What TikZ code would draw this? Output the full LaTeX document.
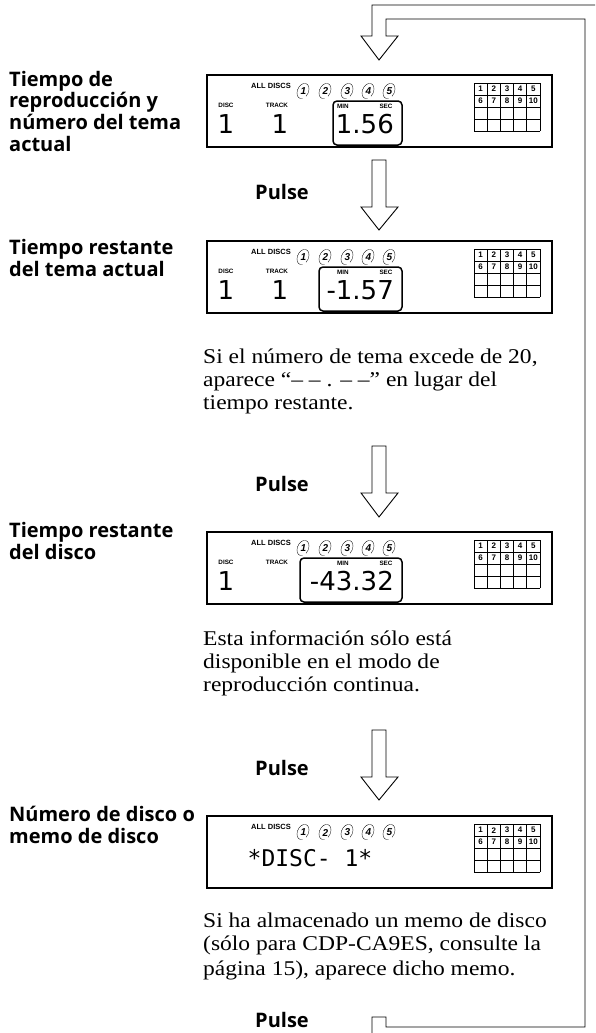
\documentclass[tikz,border=0pt]{standalone}
\usepackage{fontspec}
\setmainfont[FakeStretch=1.12]{Liberation Serif}
\newfontfamily\labelfont{Open Sans}
\newfontfamily\lcdfont{DejaVu Sans}
\newfontfamily\lcdmono{DejaVu Sans Mono}
\newfontfamily\panelfont{Liberation Sans}
\tikzset{
  lbl/.style={font=\labelfont\bfseries\fontsize{20}{21.7}\selectfont, anchor=base west, inner sep=0pt},
  body/.style={font=\fontsize{21}{23}\selectfont, anchor=base west, inner sep=0pt},
  panel/.style={draw, line width=1.6pt, minimum width=345pt, minimum height=72pt, anchor=north west, inner sep=0pt},
  tiny/.style={font=\panelfont\bfseries\fontsize{6.3}{7}\selectfont, inner sep=0pt},
  allfont/.style={font=\panelfont\bfseries\fontsize{7.5}{8}\selectfont, inner sep=0pt},
  numfont/.style={font=\panelfont\bfseries\itshape\fontsize{10}{10}\selectfont, inner sep=0pt},
  gridnum/.style={font=\panelfont\bfseries\fontsize{8}{8}\selectfont, inner sep=0pt},
  lcd/.style={font=\lcdfont\fontsize{26}{26}\selectfont, inner sep=0pt, anchor=base east},
  tbox/.style={draw, line width=1.5pt, rounded corners=4pt},
  hollow/.style={draw, line width=0.9pt, line join=miter},
}
\newcommand\lcdpanel[2]{%
\begin{scope}[shift={(206,#2)}]
  \node[panel] (#1) at (0,0) {};
  \node[allfont] (#1-all) at (65,12) {ALL DISCS};
  \foreach \i/\x in {1/97,2/119,3/141,4/162,5/183}{%
    \begin{scope}[shift={(\x,17)}, rotate=-25]
      \draw[line width=.35pt] (60:5.5 and 8) arc[start angle=60, end angle=385, x radius=5.5, y radius=8];
    \end{scope}
    \node[numfont] (#1-n\i) at ({\x+0.5},17.5) {\i};
  }
  \foreach \k in {0,...,5}{\draw[line width=.8pt] ({268+\k*13.2},9) -- ({268+\k*13.2},57);}
  \foreach \k in {0,...,4}{\draw[line width=.8pt] (268,{9+\k*12}) -- (334,{9+\k*12});}
  \foreach \n in {1,...,5}{\node[gridnum] (#1-g\n) at ({268+(\n-0.5)*13.2},15.2) {\n};}
  \foreach \n in {6,...,10}{\node[gridnum] (#1-g\n) at ({268+(\n-5.5)*13.2},27.2) {\n};}
\end{scope}}
\begin{document}
\begin{tikzpicture}[x=1pt,y=-1pt]
\useasboundingbox (0,0) rectangle (595,1033);
\clip (0,0) rectangle (595,1033);

% ---------- loop back line with top arrow ----------
\draw[hollow] (372,1045) -- (372,1017) -- (386,1017) -- (386,1027) -- (585,1027) -- (585,19)
  -- (386,19) -- (386,36) -- (398,36) -- (379,60) -- (361,36) -- (372,36) -- (372,5) -- (605,5);

% ---------- down arrows ----------
\draw[hollow] (372,160) -- (372,207) -- (361,207) -- (379,230) -- (398,207) -- (386,207) -- (386,160) -- cycle;
\draw[hollow] (372,446) -- (372,493) -- (361,493) -- (379,517) -- (398,493) -- (386,493) -- (386,446) -- cycle;
\draw[hollow] (372,730) -- (372,777) -- (361,777) -- (379,800) -- (398,777) -- (386,777) -- (386,730) -- cycle;

% ---------- Pulse labels ----------
\node[lbl] (p1) at (255,199) {Pulse};
\node[lbl] (p2) at (255,491) {Pulse};
\node[lbl] (p3) at (255,775) {Pulse};
\node[lbl] (p4) at (255,1027) {Pulse};

% ---------- left labels ----------
\node[lbl] (l1a) at (9,86) {Tiempo de};
\node[lbl] (l1b) at (9,107.7) {reproducción y};
\node[lbl] (l1c) at (9,129.4) {número del tema};
\node[lbl] (l1d) at (9,151) {actual};
\node[lbl] (l2a) at (9,254) {Tiempo restante};
\node[lbl] (l2b) at (9,276) {del tema actual};
\node[lbl] (l3a) at (9,537) {Tiempo restante};
\node[lbl] (l3b) at (9,559) {del disco};
\node[lbl] (l4a) at (9,821) {Número de disco o};
\node[lbl] (l4b) at (9,843) {memo de disco};

% ---------- body texts ----------
\node[body] (t1a) at (203,363) {Si el número de tema excede de 20,};
\node[body] (t1b) at (203,386) {aparece “– – . – –” en lugar del};
\node[body] (t1c) at (203,409) {tiempo restante.};
\node[body] (t2a) at (203,645) {Esta información sólo está};
\node[body] (t2b) at (203,668) {disponible en el modo de};
\node[body] (t2c) at (203,691) {reproducción continua.};
\node[body] (t3a) at (203,927) {Si ha almacenado un memo de disco};
\node[body] (t3b) at (203,950) {(sólo para CDP-CA9ES, consulte la};
\node[body] (t3c) at (203,975) {página 15), aparece dicho memo.};

% ---------- display 1 ----------
\lcdpanel{d1}{74}
\begin{scope}[shift={(206,74)}]
  \node[tiny] (d1-disc) at (20,31) {DISC};
  \node[tiny] (d1-track) at (71,31) {TRACK};
  \node[lcd, anchor=base] (d1-dn) at (20,59) {1};
  \node[lcd, anchor=base] (d1-tn) at (74,59) {1};
  \draw[tbox] (127,27) rectangle (196,71);
  \node[tiny] (d1-min) at (137,32) {MIN};
  \node[tiny] (d1-sec) at (180,32) {SEC};
  \node[lcd] (d1-time) at (188,59) {1.56};
\end{scope}

% ---------- display 2 ----------
\lcdpanel{d2}{240}
\begin{scope}[shift={(206,240)}]
  \node[tiny] (d2-disc) at (20,31) {DISC};
  \node[tiny] (d2-track) at (71,31) {TRACK};
  \node[lcd, anchor=base] (d2-dn) at (20,59) {1};
  \node[lcd, anchor=base] (d2-tn) at (74,59) {1};
  \draw[tbox] (113,27) rectangle (196,71);
  \node[tiny] (d2-min) at (137,32) {MIN};
  \node[tiny] (d2-sec) at (180,32) {SEC};
  \node[lcd] (d2-time) at (188,59) {-1.57};
\end{scope}

% ---------- display 3 ----------
\lcdpanel{d3}{531}
\begin{scope}[shift={(206,531)}]
  \node[tiny] (d3-disc) at (20,31) {DISC};
  \node[tiny] (d3-track) at (71,31) {TRACK};
  \node[lcd, anchor=base] (d3-dn) at (20,59) {1};
  \draw[tbox] (94,27) rectangle (196,71);
  \node[tiny] (d3-min) at (137,32) {MIN};
  \node[tiny] (d3-sec) at (180,32) {SEC};
  \node[lcd] (d3-time) at (188,59) {-43.32};
\end{scope}

% ---------- display 4 ----------
\lcdpanel{d4}{815}
\begin{scope}[shift={(206,815)}]
  \node[font=\lcdmono\fontsize{23}{23}\selectfont, inner sep=0pt, anchor=base] (d4-memo) at (104,51) {*DISC- 1*};
\end{scope}
\end{tikzpicture}
\end{document}
